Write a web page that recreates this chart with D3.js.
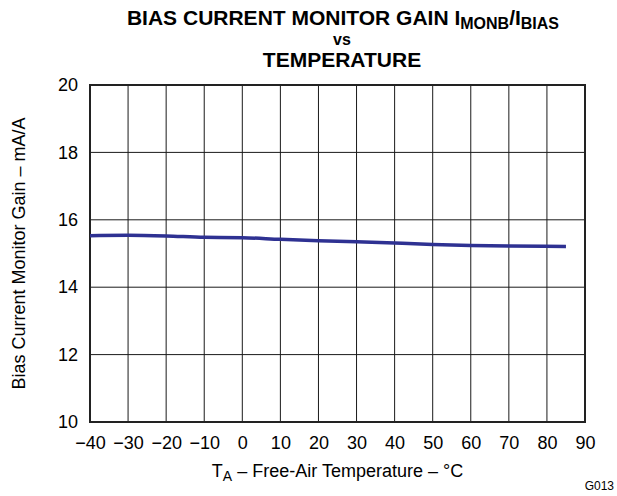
<!DOCTYPE html>
<html>
<head>
<meta charset="utf-8">
<script src="https://cdn.jsdelivr.net/npm/d3@7"></script>
<style>
  body { margin: 0; background: #fff; }
  svg { display: block; font-family: "Liberation Sans", Arial, sans-serif; }
</style>
</head>
<body>
<svg id="chart" width="617" height="496"></svg>
<script>
const temps = [-40, -30, -20, -10, 0, 10, 20, 30, 40, 50, 60, 70, 85];
const gain = [15.53, 15.54, 15.52, 15.48, 15.47, 15.42, 15.38, 15.35, 15.31, 15.27, 15.24, 15.22, 15.21];
const xTicks = [-40, -30, -20, -10, 0, 10, 20, 30, 40, 50, 60, 70, 80, 90];
const yTicks = [10, 12, 14, 16, 18, 20];

const svg = d3.select("#chart");
const L = 90, R = 585, T = 85, B = 422;
const x = d3.scaleLinear().domain([-40, 90]).range([L, R]);
const y = d3.scaleLinear().domain([10, 20]).range([B, T]);

// grid
svg.append("g").selectAll("line").data(xTicks).join("line")
  .attr("x1", d => x(d)).attr("x2", d => x(d)).attr("y1", T).attr("y2", B)
  .attr("stroke", "#1a1a1a").attr("stroke-width", 1);
svg.append("g").selectAll("line").data(yTicks).join("line")
  .attr("x1", L).attr("x2", R).attr("y1", d => y(d)).attr("y2", d => y(d))
  .attr("stroke", "#1a1a1a").attr("stroke-width", 1);

// frame
svg.append("rect").attr("x", L).attr("y", T).attr("width", R - L).attr("height", B - T)
  .attr("fill", "none").attr("stroke", "#222").attr("stroke-width", 2);

// axes labels via d3 axes (no domain/ticks lines)
const xAxis = svg.append("g").attr("transform", `translate(0,${B})`)
  .call(d3.axisBottom(x).tickValues(xTicks).tickSize(0).tickPadding(14)
    .tickFormat(d => d < 0 ? "\u2212" + Math.abs(d) : String(d)));
xAxis.select(".domain").remove();
xAxis.selectAll("text").attr("font-size", 18).attr("fill", "#000")
  .attr("font-family", "'Liberation Sans', Arial, sans-serif");

const yAxis = svg.append("g").attr("transform", `translate(${L},0)`)
  .call(d3.axisLeft(y).tickValues(yTicks).tickSize(0).tickPadding(12));
yAxis.select(".domain").remove();
yAxis.selectAll("text").attr("font-size", 18).attr("fill", "#000")
  .attr("font-family", "'Liberation Sans', Arial, sans-serif");

// data line
const line = d3.line().x((d, i) => x(temps[i])).y(d => y(d)).curve(d3.curveMonotoneX);
svg.append("path").datum(gain).attr("d", line)
  .attr("fill", "none").attr("stroke", "#2e3192").attr("stroke-width", 3.5)
  .attr("stroke-linecap", "butt");

// title
const title = svg.append("text").attr("x", 343).attr("y", 25).attr("text-anchor", "middle")
  .attr("font-weight", "bold").attr("font-size", 21).attr("fill", "#000");
title.append("tspan").text("BIAS CURRENT MONITOR GAIN I");
title.append("tspan").text("MONB").attr("font-size", 16).attr("dy", 4);
title.append("tspan").text("/I").attr("dy", -4);
title.append("tspan").text("BIAS").attr("font-size", 16).attr("dy", 4);
svg.append("text").attr("x", 342).attr("y", 45).attr("text-anchor", "middle")
  .attr("font-weight", "bold").attr("font-size", 16).text("vs");
svg.append("text").attr("x", 342).attr("y", 67).attr("text-anchor", "middle")
  .attr("font-weight", "bold").attr("font-size", 21).text("TEMPERATURE");

// x axis title
const xt = svg.append("text").attr("x", (L + R) / 2).attr("y", 477).attr("text-anchor", "middle")
  .attr("font-size", 18).attr("fill", "#000");
xt.append("tspan").text("T");
xt.append("tspan").text("A").attr("font-size", 14).attr("dy", 4);
xt.append("tspan").text(" \u2013 Free-Air Temperature \u2013 \u00B0C").attr("dy", -4);

// y axis title
svg.append("text").attr("transform", `translate(25,${(T + B) / 2}) rotate(-90)`)
  .attr("text-anchor", "middle").attr("font-size", 18).attr("fill", "#000")
  .text("Bias Current Monitor Gain \u2013 mA/A");

// figure id
svg.append("text").attr("x", 614).attr("y", 490).attr("text-anchor", "end")
  .attr("font-size", 12).attr("fill", "#000").text("G013");
</script>
</body>
</html>
